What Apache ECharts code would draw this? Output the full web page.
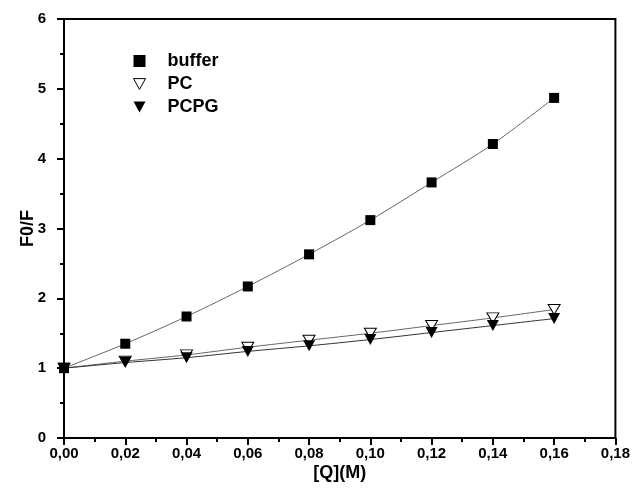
<!DOCTYPE html>
<html><head><meta charset="utf-8">
<script src="https://cdn.jsdelivr.net/npm/echarts@6/dist/echarts.min.js"></script>
<style>html,body{margin:0;padding:0;background:#fff}#c{width:633px;height:496px}</style>
</head><body><div id="c"></div>
<script>
const xValues = [0.00, 0.02, 0.04, 0.06, 0.08, 0.10, 0.12, 0.14, 0.16];
const buffer = [1.00, 1.35, 1.74, 2.17, 2.63, 3.12, 3.66, 4.21, 4.87];
const pc = [1.00, 1.10, 1.19, 1.30, 1.40, 1.50, 1.61, 1.72, 1.84];
const pcpg = [1.00, 1.08, 1.15, 1.24, 1.32, 1.41, 1.51, 1.61, 1.71];
const seriesNames = ['buffer', 'PC', 'PCPG'];
const xAxisTitle = '[Q](M)';
const yAxisTitle = 'F0/F';

const pts = arr => xValues.map((x, i) => [x, arr[i]]);
const font = 'Liberation Sans, Arial, sans-serif';
const triDown = 'path://M0,0 L10,0 L5,9 Z';

const chart = echarts.init(document.getElementById('c'));
chart.setOption({
  animation: false,
  backgroundColor: '#fff',
  grid: {left: 64, right: 16, top: 19, bottom: 58, show: true, borderColor: '#000', borderWidth: 2},
  legend: {
    left: 128, top: 47, orient: 'vertical', itemGap: 5, itemWidth: 12, itemHeight: 12,
    data: [
      {name: seriesNames[0], icon: 'rect', itemStyle: {color: '#000'}},
      {name: seriesNames[1], icon: triDown, itemStyle: {color: '#fff', borderColor: '#000', borderWidth: 1}},
      {name: seriesNames[2], icon: triDown, itemStyle: {color: '#000'}}
    ],
    textStyle: {fontFamily: font, fontWeight: 'bold', fontSize: 18, color: '#000', padding: [0, 0, 0, 17]}
  },
  xAxis: {
    type: 'value', min: 0, max: 0.18, interval: 0.02,
    name: xAxisTitle, nameLocation: 'middle', nameGap: 26, nameMoveOverlap: false,
    nameTextStyle: {fontFamily: font, fontWeight: 'bold', fontSize: 18, color: '#000'},
    axisLine: {show: true, lineStyle: {color: '#000', width: 2}},
    axisTick: {show: true, inside: false, length: 7, lineStyle: {color: '#000', width: 2}},
    minorTick: {show: true, splitNumber: 2, length: 4, lineStyle: {color: '#000', width: 2}},
    splitLine: {show: false},
    axisLabel: {margin: 8, fontFamily: font, fontWeight: 'bold', fontSize: 15, color: '#000',
      formatter: v => v.toFixed(2).replace('.', ',')}
  },
  yAxis: {
    type: 'value', min: 0, max: 6, interval: 1,
    name: yAxisTitle, nameLocation: 'middle', nameGap: 27, nameRotate: 90, nameMoveOverlap: false,
    nameTextStyle: {fontFamily: font, fontWeight: 'bold', fontSize: 18, color: '#000'},
    axisLine: {show: true, lineStyle: {color: '#000', width: 2}},
    axisTick: {show: true, inside: false, length: 7, lineStyle: {color: '#000', width: 2}},
    minorTick: {show: true, splitNumber: 2, length: 4, lineStyle: {color: '#000', width: 2}},
    splitLine: {show: false},
    axisLabel: {margin: 18, fontFamily: font, fontWeight: 'bold', fontSize: 15, color: '#000'}
  },
  series: [
    {type: 'line', name: 'fit-buffer', data: pts(buffer), smooth: 0.3, showSymbol: false, symbol: 'none',
      lineStyle: {color: '#666', width: 1}, z: 1, silent: true},
    {type: 'line', name: 'fit-pc', data: pts(pc), smooth: 0.3, showSymbol: false, symbol: 'none',
      lineStyle: {color: '#666', width: 1}, z: 1, silent: true},
    {type: 'line', name: 'fit-pcpg', data: pts(pcpg), smooth: 0.3, showSymbol: false, symbol: 'none',
      lineStyle: {color: '#333', width: 1}, z: 1, silent: true},
    {type: 'scatter', name: seriesNames[0], data: pts(buffer), symbol: 'rect', symbolSize: 10,
      itemStyle: {color: '#000', opacity: 1}, z: 3},
    {type: 'scatter', name: seriesNames[1], data: pts(pc), symbol: triDown, symbolSize: [12, 10],
      itemStyle: {color: '#fff', borderColor: '#000', borderWidth: 1, opacity: 1}, z: 3},
    {type: 'scatter', name: seriesNames[2], data: pts(pcpg), symbol: triDown, symbolSize: [12, 11],
      itemStyle: {color: '#000', opacity: 1}, z: 4}
  ]
});
</script></body></html>
